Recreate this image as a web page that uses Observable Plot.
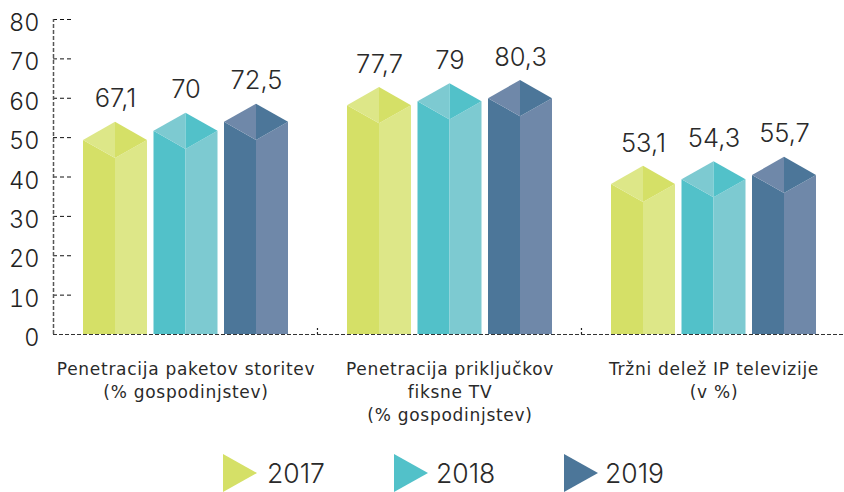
<!DOCTYPE html>
<html><head><meta charset="utf-8">
<script src="https://cdn.jsdelivr.net/npm/d3@7"></script>
<script src="https://cdn.jsdelivr.net/npm/@observablehq/plot@0.6"></script>
<style>
html,body{margin:0;padding:0;background:#fff;overflow:hidden}
svg{display:block}
#legend{position:relative;height:46px;font:300 26.5px Inter,sans-serif;color:#2a2a2a}
#legend span{position:absolute;top:7px;line-height:40px}
#legend svg{position:absolute;top:8px}
.cat{letter-spacing:.72px}
</style></head><body>
<div id="chart"></div><div id="legend"></div>
<script>
const categories = ["Penetracija paketov storitev\n(% gospodinjstev)", "Penetracija priključkov\nfiksne TV\n(% gospodinjstev)", "Tržni delež IP televizije\n(v %)"];
const years = ["2017", "2018", "2019"];
// printed values
const labels2017 = ["67,1", "77,7", "53,1"];
const labels2018 = ["70", "79", "54,3"];
const labels2019 = ["72,5", "80,3", "55,7"];
// height of the bar's outer edge
const edge2017 = [49.3, 58.1, 38.1];
const edge2018 = [51.6, 59.1, 39.3];
const edge2019 = [53.9, 59.9, 40.4];
const yTicks = [0, 10, 20, 30, 40, 50, 60, 70, 80];
const darkColors = ["#d5e067", "#52c1c9", "#4c7699"];
const lightColors = ["#dde788", "#7dcad1", "#6f88a9"];

const W = 844, H = 446, axisX = 53, groupPx = 264, centerPx = 185.5;
const u = px => (px - centerPx) / groupPx;
const barStep = 70.5 / groupPx, half = 32 / groupPx, roof = 4.6;

const edges = [edge2017, edge2018, edge2019], labs = [labels2017, labels2018, labels2019];
const faces = [], texts = [];
categories.forEach((c, g) => years.forEach((yr, k) => {
  const cx = g + (k - 1) * barStep, e = edges[k][g];
  const xL = cx - half, xR = cx + half;
  const add = (name, fill, x0, x1, a0, a1, b0, b1) => {
    const id = `${g}-${k}-${name}`;
    faces.push({id, fill, x: x0, y1: a0, y2: b0}, {id, fill, x: x1, y1: a1, y2: b1});
  };
  add("fl", darkColors[k], xL, cx, 0, 0, e, e - roof);
  add("fr", lightColors[k], cx, xR, 0, 0, e - roof, e);
  add("rl", lightColors[k], xL, cx, e, e - roof, e, e + roof);
  add("rr", darkColors[k], cx, xR, e - roof, e, e + roof, e);
  texts.push({x: cx, y: e + roof, t: labs[k][g]});
}));

const plot = Plot.plot({
  width: W, height: H,
  marginLeft: axisX, marginRight: 0, marginTop: 19, marginBottom: H - 334,
  x: {domain: [u(axisX), u(W)], axis: null},
  y: {domain: [0, 80], range: [334, 19]},
  marks: [
    Plot.axisY({ticks: yTicks, tickSize: 0, tickPadding: 14, fontSize: 23.5, fill: "#222", label: null, fontFamily: "Inter, sans-serif", fontWeight: 300, dy: 4}),
    Plot.areaY(faces, {x: "x", y1: "y1", y2: "y2", z: "id", fill: "fill"}),
    Plot.ruleY(yTicks.filter(d => d > 0), {x1: u(axisX), x2: u(73), stroke: "#111", strokeWidth: 1, strokeDasharray: "4 3"}),
    Plot.ruleX([u(axisX)], {y1: 0, y2: 80, stroke: "#555", strokeWidth: 1.5, strokeDasharray: "4 2"}),
    Plot.ruleY([0], {x1: u(axisX), x2: u(W), stroke: "#333", strokeWidth: 1.2, strokeDasharray: "4 2"}),
    Plot.ruleX([0.498, 1.498], {y1: 0, y2: 2, stroke: "#222", strokeWidth: 1.2, strokeDasharray: "2 2"}),
    Plot.text(texts, {x: "x", y: "y", text: "t", dy: -23, fontSize: 25.5, fill: "#2a2a2a", fontFamily: "Inter, sans-serif", fontWeight: 300}),
    Plot.text(categories, {x: (d, i) => i, y: 0, text: d => d, dy: 24, lineAnchor: "top", lineHeight: 1.36, fontSize: 17, fill: "#2a2a2a", fontFamily: "DejaVu Sans, sans-serif", fontWeight: 400, className: "cat"})
  ]
});
document.getElementById("chart").append(plot);

const lg = document.getElementById("legend");
const legendX = [223, 394, 564], legendTextX = [267, 436, 605];
years.forEach((yr, i) => {
  const ns = "http://www.w3.org/2000/svg";
  const s = document.createElementNS(ns, "svg");
  s.setAttribute("width", 34); s.setAttribute("height", 38);
  s.style.left = legendX[i] + "px";
  const p = document.createElementNS(ns, "polygon");
  p.setAttribute("points", "0,0 34,19 0,38"); p.setAttribute("fill", darkColors[i]);
  s.append(p); lg.append(s);
  const t = document.createElement("span");
  t.textContent = yr; t.style.left = legendTextX[i] + "px";
  lg.append(t);
});
</script></body></html>
